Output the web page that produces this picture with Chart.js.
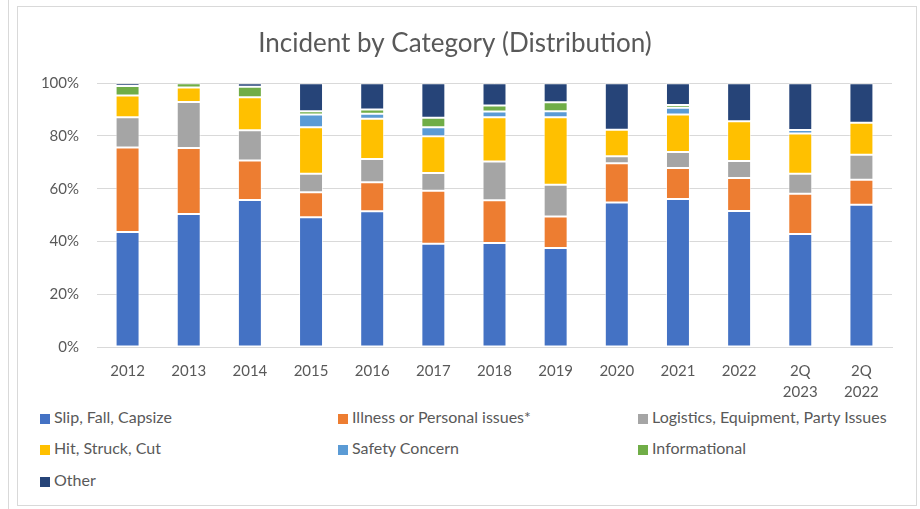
<!DOCTYPE html>
<html>
<head>
<meta charset="utf-8">
<script src="https://cdn.jsdelivr.net/npm/chart.js@4"></script>
<style>
  body { margin: 0; background: #fff; font-family: Lato, "Open Sans", sans-serif; }
  #edge { position: absolute; left: 8px; top: 0; width: 0; height: 509px; border-left: 1px solid #d9d9d9; }
  #box { position: absolute; left: 17px; top: 6px; width: 898px; height: 498px; border: 1px solid #d9d9d9; background: #fff; }
  #wrap { position: absolute; left: 0; top: 0; width: 898px; height: 400px; }
  .lg { position: absolute; font-size: 16px; color: #595959; white-space: nowrap; line-height: 20px; }
  .lg span { display: inline-block; width: 10px; height: 10px; margin-right: 4px; vertical-align: -1px; }
</style>
</head>
<body>
<div id="edge"></div>
<div id="box">
  <div id="wrap"><canvas id="incidentChart"></canvas></div>
  <div id="legend"></div>
</div>
<script>
const categories = ['2012', '2013', '2014', '2015', '2016', '2017', '2018', '2019', '2020', '2021', '2022', ['2Q', '2023'], ['2Q', '2022']];
const slipFall    = [43.6, 50.4, 55.7, 49.2, 51.5, 39.1, 39.4, 37.5, 54.8, 56.1, 51.6, 42.8, 53.9];
const illness     = [32.0, 25.0, 15.0,  9.5, 11.0, 20.1, 16.2, 12.0, 14.9, 11.8, 12.5, 15.3,  9.5];
const logistics   = [11.5, 17.5, 11.5,  7.0,  8.8,  6.8, 14.7, 12.0,  2.6,  6.0,  6.4,  7.6,  9.5];
const hitStruck   = [ 8.2,  5.5, 12.5, 17.6, 15.2, 13.9, 16.8, 25.6, 10.1, 14.2, 15.1, 15.2, 12.1];
const safety      = [ 0.0,  0.0,  0.0,  4.8,  1.9,  3.4,  2.2,  2.3,  0.0,  2.6,  0.0,  1.4,  0.0];
const information = [ 3.6,  1.6,  4.0,  1.3,  1.6,  3.6,  2.2,  3.4,  0.0,  1.0,  0.0,  0.0,  0.0];
const other       = [ 1.1,  0.0,  1.3, 10.6, 10.0, 13.1,  8.5,  7.2, 17.6,  8.3, 14.4, 17.7, 15.0];
const yTicks = [0, 20, 40, 60, 80, 100];

const series = [
    { label: 'Slip, Fall, Capsize', data: slipFall, color: '#4472C4' },
    { label: 'Illness or Personal issues*', data: illness, color: '#ED7D31' },
    { label: 'Logistics, Equipment, Party Issues', data: logistics, color: '#A5A5A5' },
    { label: 'Hit, Struck, Cut', data: hitStruck, color: '#FFC000' },
    { label: 'Safety Concern', data: safety, color: '#5B9BD5' },
    { label: 'Informational', data: information, color: '#70AD47' },
    { label: 'Other', data: other, color: '#264478' }
];

const grey = '#595959';
const font = 'Lato, "Open Sans", sans-serif';

new Chart(document.getElementById('incidentChart').getContext('2d'), {
    type: 'bar',
    data: {
        labels: categories,
        datasets: series.map(s => ({
            label: s.label,
            data: s.data,
            backgroundColor: s.color,
            borderColor: 'rgba(255,255,255,0.6)',
            borderWidth: ctx => ctx.raw > 0 ? 1 : 0,
            borderSkipped: false,
            barPercentage: 0.4,
            categoryPercentage: 0.98
        }))
    },
    options: {
        responsive: true,
        maintainAspectRatio: false,
        animation: false,
        layout: { padding: { left: 0, right: 24, top: 0, bottom: 0 } },
        plugins: {
            legend: { display: false },
            tooltip: { enabled: false },
            title: {
                display: true,
                text: 'Incident by Category (Distribution)',
                color: grey,
                font: { family: font, size: 26, weight: 'normal' },
                padding: { top: 21, bottom: 24 }
            }
        },
        scales: {
            x: {
                stacked: true,
                grid: { display: false, drawTicks: false },
                border: { color: '#d9d9d9' },
                ticks: {
                    color: grey, maxRotation: 0, autoSkip: false, padding: 13,
                    font: { family: font, size: 15, lineHeight: 1.45 }
                },
                afterFit: scale => { scale.height = 60; }
            },
            y: {
                stacked: true,
                min: 0,
                max: 100,
                grid: { color: '#d9d9d9', drawTicks: false },
                border: { display: false },
                afterBuildTicks: scale => { scale.ticks = yTicks.map(v => ({ value: v })); },
                ticks: {
                    color: grey, padding: 18,
                    font: { family: font, size: 15 },
                    callback: v => v + '%'
                },
                afterFit: scale => { scale.width = 79; }
            }
        }
    }
});

// legend laid out in three columns like the original
const colX = [22, 320, 620];
const rowY = [400, 431, 463];
const legend = document.getElementById('legend');
series.forEach((s, i) => {
    const div = document.createElement('div');
    div.className = 'lg';
    div.style.left = colX[i % 3] + 'px';
    div.style.top = rowY[Math.floor(i / 3)] + 'px';
    div.innerHTML = '<span style="background:' + s.color + '"></span>' + s.label;
    legend.appendChild(div);
});
</script>
</body>
</html>
